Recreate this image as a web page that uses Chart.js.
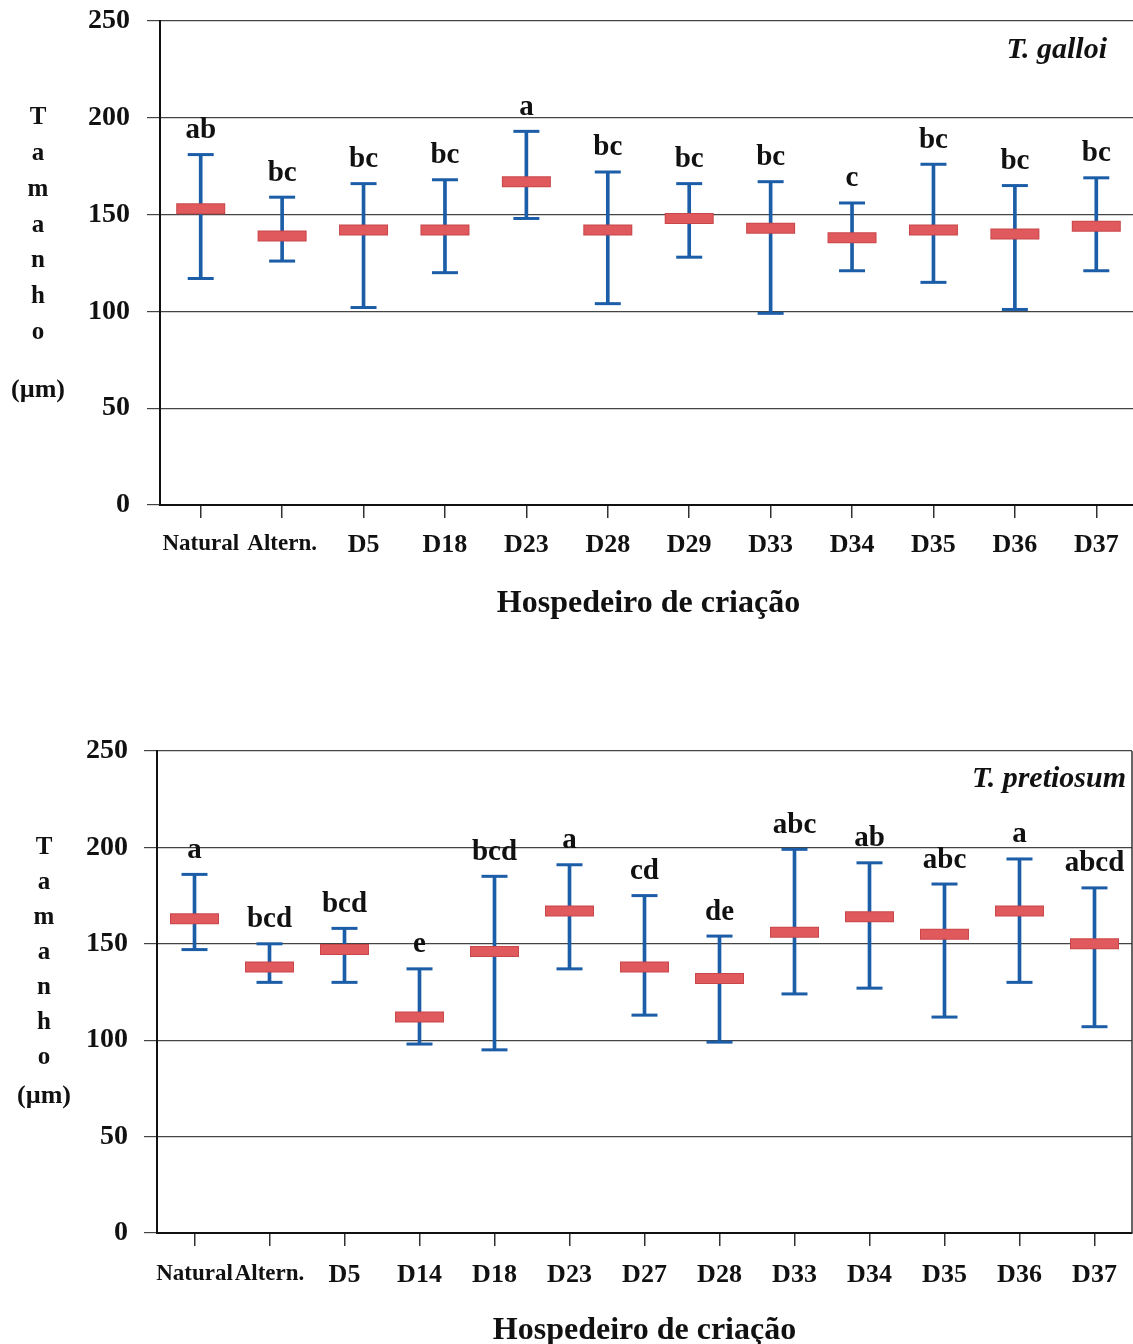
<!DOCTYPE html>
<html>
<head>
<meta charset="utf-8">
<script src="https://cdn.jsdelivr.net/npm/chart.js@4.4.1/dist/chart.umd.min.js"></script>
<style>
  html, body { margin: 0; padding: 0; background: #fff; overflow: hidden; width: 1133px; height: 1344px; position: relative; }
  canvas { position: absolute; left: 0; }
</style>
</head>
<body>
<canvas id="galloi" style="top:0px" width="1145" height="640"></canvas>
<canvas id="pretiosum" style="top:700px" width="1145" height="660"></canvas>
<script>
// ---- T. galloi: egg size per rearing host (mean, min, max) ----
const galloiHosts   = ['Natural', 'Altern.', 'D5', 'D18', 'D23', 'D28', 'D29', 'D33', 'D34', 'D35', 'D36', 'D37'];
const galloiMean    = [153, 139, 142, 142, 167, 142, 148, 143, 138, 142, 140, 144];
const galloiMin     = [117, 126, 102, 120, 148, 104, 128,  99, 121, 115, 101, 121];
const galloiMax     = [181, 159, 166, 168, 193, 172, 166, 167, 156, 176, 165, 169];
const galloiLetters = ['ab', 'bc', 'bc', 'bc', 'a', 'bc', 'bc', 'bc', 'c', 'bc', 'bc', 'bc'];

// ---- T. pretiosum ----
const pretiosumHosts   = ['Natural', 'Altern.', 'D5', 'D14', 'D18', 'D23', 'D27', 'D28', 'D33', 'D34', 'D35', 'D36', 'D37'];
const pretiosumMean    = [163, 138, 147, 112, 146, 167, 138, 132, 156, 164, 155, 167, 150];
const pretiosumMin     = [147, 130, 130,  98,  95, 137, 113,  99, 124, 127, 112, 130, 107];
const pretiosumMax     = [186, 150, 158, 137, 185, 191, 175, 154, 199, 192, 181, 194, 179];
const pretiosumLetters = ['a', 'bcd', 'bcd', 'e', 'bcd', 'a', 'cd', 'de', 'abc', 'ab', 'abc', 'a', 'abcd'];

// axis tick values and titles
const yTicks = [0, 50, 100, 150, 200, 250];
const yTitleLetters = ['T', 'a', 'm', 'a', 'n', 'h', 'o'];
const yTitleUnit = '(\u00b5m)';
const xTitle = 'Hospedeiro de cria\u00e7\u00e3o';

const SERIF = '"Liberation Serif", "Times New Roman", Times, serif';
const BLUE = '#1c5da8';
const RED = '#e0595c';
const RED_EDGE = '#c8474a';
const INK = '#111';

// keep the plot box exactly where the layout padding puts it
function noScalePadding(s) {
  s.paddingTop = 0; s.paddingBottom = 0; s.paddingLeft = 0; s.paddingRight = 0;
}

function buildChart(canvasId, hosts, means, mins, maxs, letters, species, geom) {
  const decor = {
    id: 'decor',
    afterDatasetsDraw(chart) {
      const { ctx, chartArea, scales: { x, y } } = chart;
      ctx.save();
      // significance letters above each whisker
      ctx.fillStyle = INK;
      ctx.textAlign = 'center';
      ctx.textBaseline = 'middle';
      ctx.font = `bold 29px ${SERIF}`;
      letters.forEach((t, i) => {
        ctx.fillText(t, x.getPixelForValue(i), y.getPixelForValue(maxs[i]) - 24);
      });
      // species name in the top-right corner
      ctx.textAlign = 'right';
      ctx.font = `italic bold 30px ${SERIF}`;
      ctx.fillText(species, chartArea.right - geom.speciesRight, chartArea.top + geom.speciesTop);
      // right frame
      ctx.strokeStyle = '#333';
      ctx.lineWidth = 1.5;
      ctx.beginPath();
      ctx.moveTo(chartArea.right, chartArea.top);
      ctx.lineTo(chartArea.right, chartArea.bottom);
      ctx.stroke();
      ctx.restore();
    },
    afterDraw(chart) {
      // stacked vertical axis title
      const { ctx, scales: { y } } = chart;
      ctx.save();
      ctx.fillStyle = INK;
      ctx.textAlign = 'center';
      ctx.textBaseline = 'middle';
      ctx.font = `bold 25px ${SERIF}`;
      const y0 = y.getPixelForValue(200);
      yTitleLetters.forEach((ch, i) => ctx.fillText(ch, geom.titleX, y0 + i * geom.letterStep));
      ctx.font = `bold 26px ${SERIF}`;
      ctx.fillText(yTitleUnit, geom.titleX, y0 + (yTitleLetters.length - 1) * geom.letterStep + geom.unitGap);
      ctx.restore();
    }
  };

  const whiskerCap = (data) => ({
    type: 'line', data, showLine: false, pointStyle: 'line',
    pointRadius: 13, pointHoverRadius: 13, pointBorderWidth: 3, pointBorderColor: BLUE, borderColor: BLUE, order: 3
  });

  return new Chart(document.getElementById(canvasId), {
    type: 'bar',
    data: {
      labels: hosts,
      datasets: [
        { type: 'bar', data: mins.map((v, i) => [v, maxs[i]]), backgroundColor: BLUE, barThickness: 3, borderWidth: 0, order: 4 },
        whiskerCap(maxs),
        whiskerCap(mins),
        { type: 'line', data: means, showLine: false, pointStyle: 'line', pointRadius: 24.5, pointHoverRadius: 24.5,
          pointBorderWidth: 11, pointBorderColor: RED_EDGE, borderColor: RED_EDGE, order: 2 },
        { type: 'line', data: means, showLine: false, pointStyle: 'line', pointRadius: 23.5, pointHoverRadius: 23.5,
          pointBorderWidth: 9, pointBorderColor: RED, borderColor: RED, order: 1 }
      ]
    },
    options: {
      responsive: false,
      animation: false,
      events: [],
      layout: { autoPadding: false, padding: { top: geom.top, right: geom.right, left: 0, bottom: 0 } },
      plugins: { legend: { display: false }, tooltip: { enabled: false } },
      scales: {
        x: {
          offset: true,
          grid: { offset: false, drawOnChartArea: false, drawTicks: true, tickLength: 13, color: '#333', lineWidth: 1.5 },
          border: { color: INK, width: 2 },
          ticks: {
            autoSkip: false, maxRotation: 0, minRotation: 0, padding: geom.xPad, color: INK,
            font: (c) => ({ family: SERIF, weight: 'bold', size: c.index < 2 ? 23 : 26 })
          },
          title: {
            display: true, text: xTitle, color: INK,
            font: { family: SERIF, weight: 'bold', size: 32 },
            padding: { top: 0, bottom: geom.titlePad }
          },
          afterFit: (s) => { s.height = geom.xHeight; noScalePadding(s); }
        },
        y: {
          min: yTicks[0], max: yTicks[yTicks.length - 1],
          afterBuildTicks: (s) => { s.ticks = yTicks.map(v => ({ value: v })); },
          grid: { color: '#444', lineWidth: 1.2, drawTicks: true, tickLength: 13 },
          border: { color: INK, width: 2 },
          ticks: { padding: geom.yPad, color: INK, font: { family: SERIF, weight: 'bold', size: 28 } },
          afterFit: (s) => { s.width = geom.yWidth; noScalePadding(s); }
        }
      }
    },
    plugins: [decor]
  });
}

buildChart('galloi', galloiHosts, galloiMean, galloiMin, galloiMax, galloiLetters, 'T. galloi', {
  top: 21, right: 8, yWidth: 160, xHeight: 135, xPad: 12, titlePad: 17, yPad: 17,
  speciesRight: 30, speciesTop: 29, titleX: 38, letterStep: 35.8, unitGap: 58
});

buildChart('pretiosum', pretiosumHosts, pretiosumMean, pretiosumMin, pretiosumMax, pretiosumLetters, 'T. pretiosum', {
  top: 51, right: 13, yWidth: 157, xHeight: 127, xPad: 14, titlePad: 10, yPad: 16,
  speciesRight: 6, speciesTop: 28, titleX: 44, letterStep: 35, unitGap: 39
});
</script>
</body>
</html>
